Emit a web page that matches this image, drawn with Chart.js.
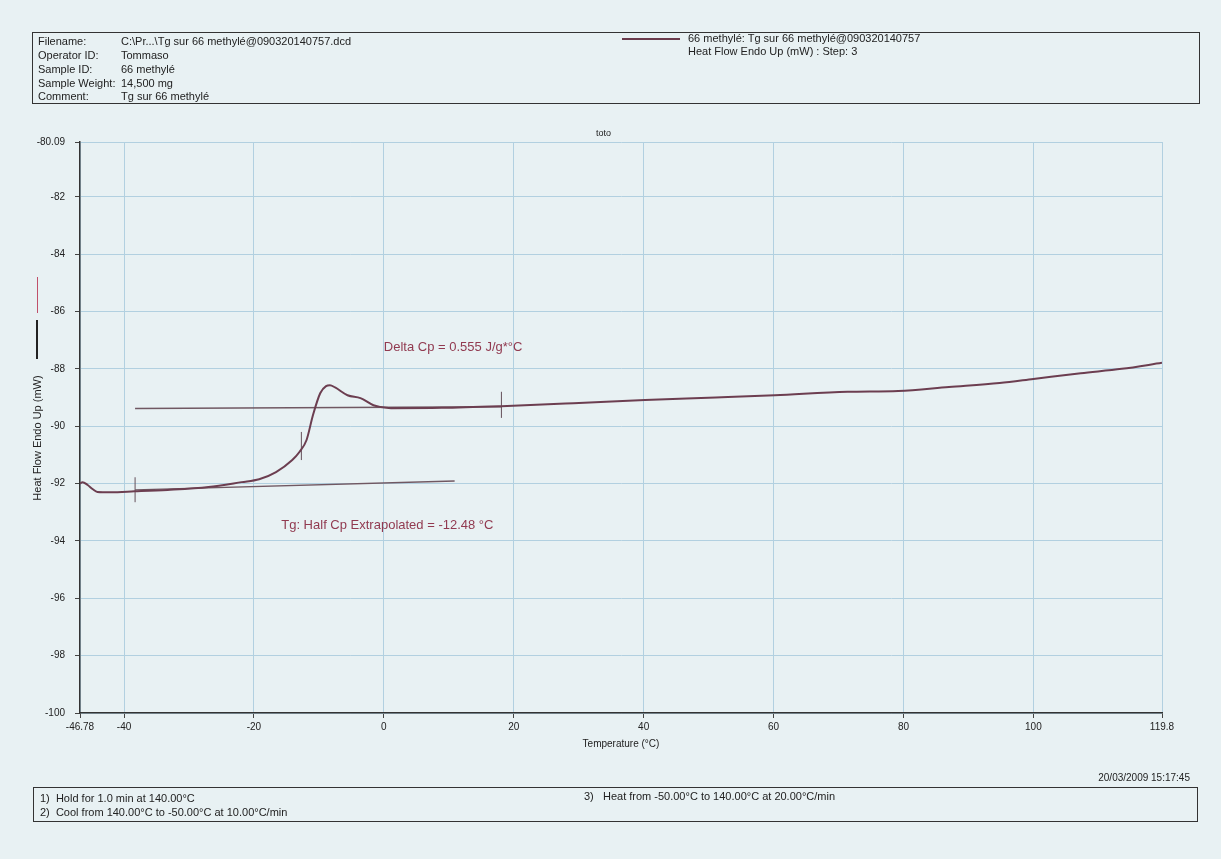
<!DOCTYPE html>
<html>
<head>
<meta charset="utf-8">
<script src="https://cdn.jsdelivr.net/npm/chart.js@4"></script>
<style>
    body { margin: 0; background: #e8f1f3; font-family: "Liberation Sans", Arial, sans-serif; color: #222; }
    #wrap { position: relative; width: 1221px; height: 859px; overflow: hidden; }
    #chart { position: absolute; left: 0; top: 0; }
    .box { position: absolute; border: 1.5px solid #333; box-sizing: border-box; }
    .t { position: absolute; font-size: 11px; white-space: nowrap; line-height: 13px; }
</style>
</head>
<body>
<div id="wrap">
    <canvas id="chart" width="1221" height="859"></canvas>

    <!-- en-tete -->
    <div class="box" style="left:32px;top:32px;width:1168px;height:72px;"></div>
    <div class="t" style="left:38px;top:35px;">Filename:</div>
    <div class="t" style="left:38px;top:49px;">Operator ID:</div>
    <div class="t" style="left:38px;top:63px;">Sample ID:</div>
    <div class="t" style="left:38px;top:77px;">Sample Weight:</div>
    <div class="t" style="left:38px;top:90px;">Comment:</div>
    <div class="t" style="left:121px;top:35px;">C:\Pr...\Tg sur 66 methylé@090320140757.dcd</div>
    <div class="t" style="left:121px;top:49px;">Tommaso</div>
    <div class="t" style="left:121px;top:63px;">66 methylé</div>
    <div class="t" style="left:121px;top:77px;">14,500 mg</div>
    <div class="t" style="left:121px;top:90px;">Tg sur 66 methylé</div>

    <div style="position:absolute;left:622px;top:38px;width:58px;height:2px;background:#6a3b4c;"></div>
    <div class="t" style="left:688px;top:32px;">66 methylé: Tg sur 66 methylé@090320140757</div>
    <div class="t" style="left:688px;top:45px;">Heat Flow Endo Up (mW) : Step: 3</div>

    <div class="t" style="left:596px;top:127px;font-size:9px;">toto</div>

    <!-- titre axe y -->
    <div style="position:absolute;left:37px;top:277px;width:1px;height:36px;background:#c0506a;"></div>
    <div style="position:absolute;left:36px;top:320px;width:2px;height:39px;background:#222;"></div>
    <div class="t" style="left:37px;top:438px;transform:translate(-50%,-50%) rotate(-90deg);font-size:11px;">Heat Flow Endo Up (mW)</div>

    <!-- pied -->
    <div class="t" style="right:31px;top:771px;font-size:10px;">20/03/2009 15:17:45</div>
    <div class="box" style="left:33px;top:787px;width:1165px;height:35px;"></div>
    <div class="t" style="left:40px;top:792px;">1)&nbsp; Hold for 1.0 min at 140.00°C</div>
    <div class="t" style="left:40px;top:806px;">2)&nbsp; Cool from 140.00°C to -50.00°C at 10.00°C/min</div>
    <div class="t" style="left:584px;top:790px;">3)&nbsp;&nbsp; Heat from -50.00°C to 140.00°C at 20.00°C/min</div>
</div>

<script>
// Courbe DSC (temperature en °C, flux en mW)
const temps = [-46.78, -46.4, -45.6, -44.8, -44.1, -42.1, -38.4, -33.3, -27.0, -21.9, -19.2, -16.6, -14.1,
    -13.0, -11.9, -10.9, -9.8, -8.9, -8.3, -7.5, -5.6, -3.6, -1.6, -0.5, 1.1, 8.9, 18.1, 29.2, 40.2,
    51.1, 60.2, 71.4, 79.2, 87.0, 94.8, 100, 107.3, 113.6, 119.8];
const heatFlow = [-92.0, -91.95, -92.05, -92.2, -92.29, -92.3, -92.27, -92.22, -92.12, -91.95, -91.85, -91.6, -91.18,
    -90.9, -90.48, -89.6, -88.85, -88.6, -88.57, -88.65, -88.92, -89.02, -89.27, -89.33, -89.37, -89.36, -89.3, -89.2, -89.09,
    -89.0, -88.92, -88.8, -88.77, -88.63, -88.49, -88.35, -88.15, -88.0, -87.79];

// lignes de base extrapolees
const upperBaseT = [-38.3, 18.1];
const upperBaseY = [-89.38, -89.32];
const lowerBaseT = [-38.3, 10.9];
const lowerBaseY = [-92.22, -91.91];

// petits reperes verticaux
const markerT = [-38.3, -12.7, 18.1];
const markerLow = [-92.65, -91.18, -89.71];
const markerHigh = [-91.78, -90.2, -88.8];

// graduations
const xTicks = [-46.78, -40, -20, 0, 20, 40, 60, 80, 100, 119.8];
const yTicks = [-100, -98, -96, -94, -92, -90, -88, -86, -84, -82, -80.09];

// textes annotes
const notes = [
    { text: 'Delta Cp = 0.555 J/g*°C', x: 0.0, y: -87.25 },
    { text: 'Tg: Half Cp Extrapolated = -12.48 °C', x: -15.8, y: -93.45 }
];

const pairs = (xs, ys) => xs.map((x, i) => ({ x: x, y: ys[i] }));

const datasets = [
    {
        data: pairs(temps, heatFlow),
        borderColor: 'rgb(108, 62, 80)',
        borderWidth: 2,
        cubicInterpolationMode: 'monotone',
        pointRadius: 0
    },
    { data: pairs(upperBaseT, upperBaseY), borderColor: 'rgb(112, 88, 98)', borderWidth: 1.4, pointRadius: 0 },
    { data: pairs(lowerBaseT, lowerBaseY), borderColor: 'rgb(112, 88, 98)', borderWidth: 1.4, pointRadius: 0 }
];
markerT.forEach((t, i) => {
    datasets.push({
        data: [{ x: t, y: markerLow[i] }, { x: t, y: markerHigh[i] }],
        borderColor: 'rgb(100, 80, 90)',
        borderWidth: 1,
        pointRadius: 0
    });
});

// dessine les textes a leurs coordonnees
const notePlugin = {
    id: 'notes',
    afterDatasetsDraw(chart) {
        const ctx = chart.ctx;
        const xs = chart.scales.x, ys = chart.scales.y;
        ctx.save();
        ctx.font = '13px "Liberation Sans", Arial, sans-serif';
        ctx.fillStyle = 'rgb(145, 58, 80)';
        ctx.textBaseline = 'middle';
        notes.forEach(n => ctx.fillText(n.text, xs.getPixelForValue(n.x), ys.getPixelForValue(n.y)));
        ctx.restore();
    }
};

const gridColor = 'rgb(178, 208, 224)';
const tickFont = { family: '"Liberation Sans", Arial, sans-serif', size: 10 };

new Chart(document.getElementById('chart').getContext('2d'), {
    type: 'line',
    data: { datasets: datasets },
    plugins: [notePlugin],
    options: {
        responsive: false,
        animation: false,
        devicePixelRatio: 1,
        layout: { padding: { left: 25, top: 142, right: 59, bottom: 104 } },
        plugins: { legend: { display: false }, tooltip: { enabled: false } },
        scales: {
            x: {
                type: 'linear',
                min: -46.78,
                max: 119.8,
                afterBuildTicks: s => { s.ticks = xTicks.map(v => ({ value: v })); },
                afterFit: s => { s.height = 42; },
                ticks: { autoSkip: false, maxRotation: 0, padding: 3, color: '#222', font: tickFont, callback: v => String(v) },
                grid: { color: gridColor, tickColor: '#444', tickLength: 5 },
                border: { color: '#333', width: 1.5 },
                title: { display: true, text: 'Temperature (°C)', color: '#222', font: tickFont, padding: { top: 0, bottom: 5 } }
            },
            y: {
                min: -100,
                max: -80.09,
                afterBuildTicks: s => { s.ticks = yTicks.map(v => ({ value: v })); },
                afterFit: s => { s.width = 55; },
                ticks: { autoSkip: false, padding: 10, color: '#222', font: tickFont, callback: v => String(v) },
                grid: { color: gridColor, tickColor: '#444', tickLength: 5 },
                border: { color: '#333', width: 1.5 }
            }
        }
    }
});
</script>
</body>
</html>
